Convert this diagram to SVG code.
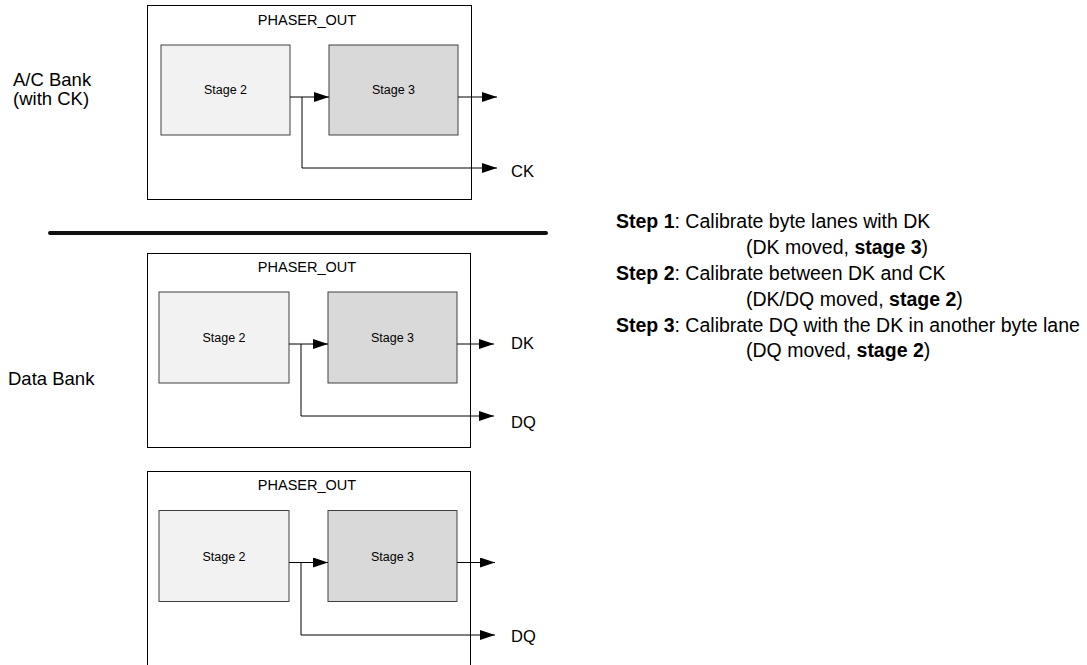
<svg xmlns="http://www.w3.org/2000/svg" width="1087" height="665" viewBox="0 0 1087 665">
<style>
text{font-family:"Liberation Sans",Arial,sans-serif;fill:#000}
.outer{fill:none;stroke:#000;stroke-width:1}
.s2{fill:#f2f2f2;stroke:#404040;stroke-width:1}
.s3{fill:#d9d9d9;stroke:#404040;stroke-width:1}
.title{font-size:14.5px;text-anchor:middle}
.stage{font-size:12.5px;text-anchor:middle}
.sig{font-size:16.5px}
.lbl{font-size:18.5px}
.step{font-size:19.5px}
.b{font-weight:bold}
.wire{fill:none;stroke:#000;stroke-width:1;marker-end:url(#ah)}
</style>
<defs>
<marker id="ah" markerUnits="userSpaceOnUse" markerWidth="15" markerHeight="10" refX="15" refY="5" orient="auto">
<path d="M0,0 L15,5 L0,10 Z" fill="#000"/>
</marker>
</defs>
<rect width="1087" height="665" fill="#fff"/>

<g id="label-ac">
<text class="lbl" x="13" y="86">A/C Bank</text>
<text class="lbl" x="13" y="105">(with CK)</text>
</g>
<g id="label-data">
<text class="lbl" x="8" y="385">Data Bank</text>
</g>

<g id="phaser-top">
<rect class="outer" x="147.5" y="5.5" width="324" height="194"/>
<text class="title" x="307" y="25">PHASER_OUT</text>
</g>
<g id="stage2-top">
<rect class="s2" x="161" y="45" width="129" height="90"/>
<text class="stage" x="225.5" y="94">Stage 2</text>
</g>
<g id="stage3-top">
<rect class="s3" x="329" y="45" width="129" height="90"/>
<text class="stage" x="393.5" y="94">Stage 3</text>
</g>
<g id="ck-label"><text class="sig" x="511" y="177">CK</text></g>

<g id="separator">
<line x1="50" y1="233" x2="546" y2="233" stroke="#111" stroke-width="4" stroke-linecap="round"/>
</g>

<g id="phaser-mid">
<rect class="outer" x="147.5" y="253.5" width="323" height="194"/>
<text class="title" x="307" y="272">PHASER_OUT</text>
</g>
<g id="stage2-mid">
<rect class="s2" x="159" y="292" width="130" height="91"/>
<text class="stage" x="224" y="342">Stage 2</text>
</g>
<g id="stage3-mid">
<rect class="s3" x="328" y="292" width="129" height="91"/>
<text class="stage" x="392.5" y="342">Stage 3</text>
</g>
<g id="dk-label"><text class="sig" x="511" y="349">DK</text></g>
<g id="dq-label-mid"><text class="sig" x="511" y="428">DQ</text></g>

<g id="phaser-bot">
<rect class="outer" x="147.5" y="471.5" width="323" height="220"/>
<text class="title" x="307" y="490">PHASER_OUT</text>
</g>
<g id="stage2-bot">
<rect class="s2" x="159" y="510.5" width="130" height="91"/>
<text class="stage" x="224" y="560.5">Stage 2</text>
</g>
<g id="stage3-bot">
<rect class="s3" x="328" y="510.5" width="129" height="91"/>
<text class="stage" x="392.5" y="560.5">Stage 3</text>
</g>
<g id="dq-label-bot"><text class="sig" x="511" y="642">DQ</text></g>

<g id="connectors">
<path class="wire" d="M290,97 H329"/>
<path class="wire" d="M302,97 V168 H497"/>
<path class="wire" d="M458,97 H497"/>
<path class="wire" d="M289,344 H328"/>
<path class="wire" d="M301,344 V416 H494"/>
<path class="wire" d="M457,344 H494"/>
<path class="wire" d="M289,562.5 H328"/>
<path class="wire" d="M301,562.5 V635 H495"/>
<path class="wire" d="M457,562.5 H495"/>
</g>

<g id="steps">
<text class="step" x="616" y="228"><tspan class="b">Step 1</tspan>: Calibrate byte lanes with DK</text>
<text class="step" x="746" y="254">(DK moved, <tspan class="b">stage 3</tspan>)</text>
<text class="step" x="616" y="280"><tspan class="b">Step 2</tspan>: Calibrate between DK and CK</text>
<text class="step" x="746" y="306">(DK/DQ moved, <tspan class="b">stage 2</tspan>)</text>
<text class="step" x="616" y="331.5"><tspan class="b">Step 3</tspan>: Calibrate DQ with the DK in another byte lane</text>
<text class="step" x="746" y="357">(DQ moved, <tspan class="b">stage 2</tspan>)</text>
</g>
</svg>
